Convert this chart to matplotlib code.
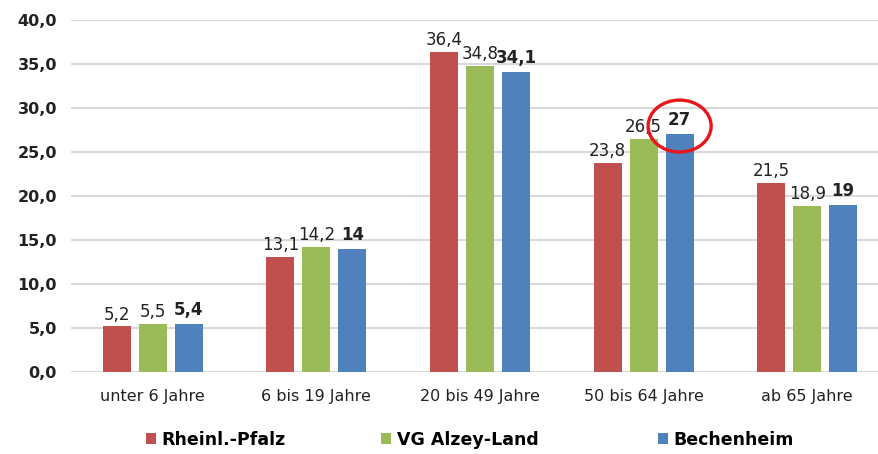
import numpy as np
import matplotlib
matplotlib.use("Agg")
import matplotlib.pyplot as plt
from matplotlib.patches import Ellipse

# Data
categories = ["unter 6 Jahre", "6 bis 19 Jahre", "20 bis 49 Jahre", "50 bis 64 Jahre", "ab 65 Jahre"]
rheinland_pfalz = [5.2, 13.1, 36.4, 23.8, 21.5]
vg_alzey_land = [5.5, 14.2, 34.8, 26.5, 18.9]
bechenheim = [5.4, 14, 34.1, 27, 19]
series_names = ["Rheinl.-Pfalz", "VG Alzey-Land", "Bechenheim"]
y_ticks = [0, 5, 10, 15, 20, 25, 30, 35, 40]

colors = ["#C0504D", "#9BBB59", "#4F81BD"]
plt.rcParams["font.family"] = ["DejaVu Sans"]

fig = plt.figure(figsize=(8.79, 4.54), dpi=100)
ax = fig.add_axes([71 / 879, 1 - 372 / 454, 1 - 71 / 879, 352 / 454])

x = np.arange(len(categories))
step = 36 / 163.5
width = 28 / 163.5

all_series = [rheinland_pfalz, vg_alzey_land, bechenheim]
handles = []
for i, (vals, name, col) in enumerate(zip(all_series, series_names, colors)):
    pos = x + (i - 1) * step
    bars = ax.bar(pos, vals, width=width, color=col, label=name, zorder=3)
    handles.append(bars)
    for p, v in zip(pos, vals):
        txt = f"{v:g}".replace(".", ",")
        ax.text(p, v + (0.6 if i == 2 else 0.3), txt, ha="center", va="bottom", fontsize=12,
                fontweight="bold" if i == 2 else "normal", color="#222222", zorder=4)

# red circle around the Bechenheim 50-64 value
ax.add_patch(Ellipse((3 + step, bechenheim[3] + 0.95), 63 / 163.5, 5.9,
                     fill=False, edgecolor="#E8161B", linewidth=2.4, zorder=5, clip_on=False))

ax.set_ylim(0, 40)
ax.set_xlim(-0.5, 4.5 - 10 / 163.5)
ax.set_yticks(y_ticks)
ax.set_yticklabels([f"{t:.1f}".replace(".", ",") for t in y_ticks], fontsize=11.5, fontweight="bold", color="#222222")
ax.set_xticks(x)
ax.set_xticklabels(categories, fontsize=11.5, color="#222222")
ax.tick_params(axis="y", length=0, pad=10)
ax.tick_params(axis="x", length=0, pad=12)
ax.grid(axis="y", color="#d9d9d9", linewidth=1.5, zorder=0)
for s in ax.spines.values():
    s.set_visible(False)

# one legend entry per position, like the original
legend_x = [146, 381, 658]
for h, name, lx in zip(handles, series_names, legend_x):
    fig.legend([h], [name], loc="center left", bbox_to_anchor=(lx / 879, 1 - 440 / 454),
               frameon=False, prop={"weight": "bold", "size": 12.5}, handlelength=0.6,
               handleheight=0.6, handletextpad=0.3, borderpad=0, borderaxespad=0)

fig.savefig("out.png", dpi=100)
